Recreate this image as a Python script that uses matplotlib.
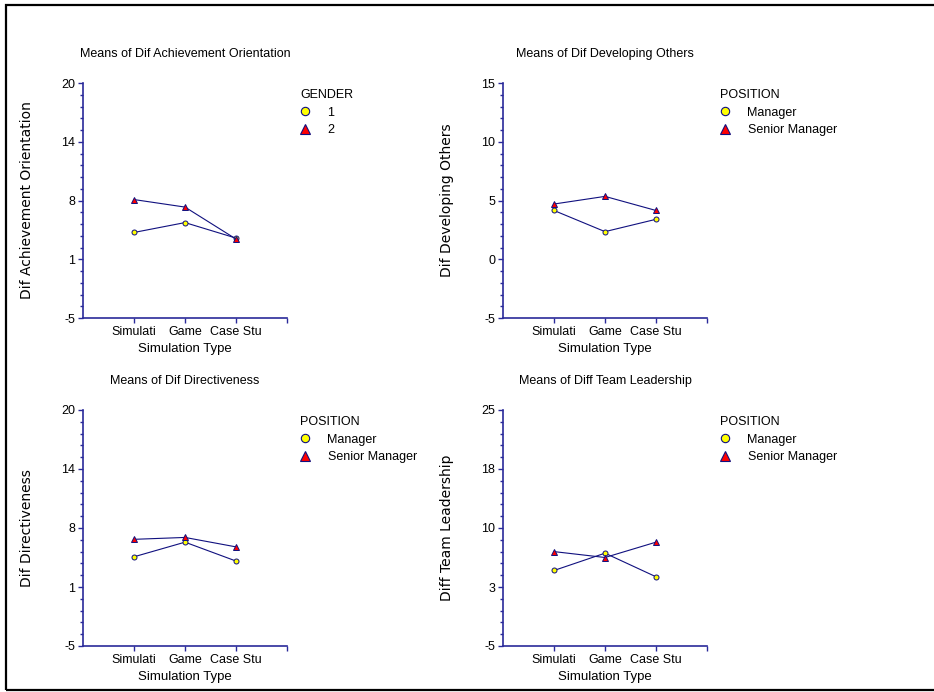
import numpy as np
import matplotlib
matplotlib.use("Agg")
import matplotlib.pyplot as plt
from matplotlib.lines import Line2D
from matplotlib.patches import Rectangle
from matplotlib.ticker import FixedLocator, FuncFormatter

# data
categories = ["Simulati", "Game", "Case Stu"]

ach_gender1 = [4.1, 5.15, 3.5]
ach_gender2 = [7.6, 6.8, 3.4]

dev_manager = [4.15, 2.35, 3.4]
dev_senior = [4.7, 5.35, 4.15]

dir_manager = [4.45, 6.0, 4.0]
dir_senior = [6.3, 6.5, 5.5]

team_manager = [4.6, 6.8, 3.8]
team_senior = [7.0, 6.25, 8.2]

titles = ["Means of Dif Achievement Orientation", "Means of Dif Developing Others",
          "Means of Dif Directiveness", "Means of Diff Team Leadership"]
ylabels = ["Dif Achievement Orientation", "Dif Developing Others",
           "Dif Directiveness", "Diff Team Leadership"]
ylims = [(-5, 20), (-5, 15), (-5, 20), (-5, 25)]
legend_titles = ["GENDER", "POSITION", "POSITION", "POSITION"]
legend_labels = [["1", "2"], ["Manager", "Senior Manager"],
                 ["Manager", "Senior Manager"], ["Manager", "Senior Manager"]]
series = [(ach_gender1, ach_gender2), (dev_manager, dev_senior),
          (dir_manager, dir_senior), (team_manager, team_senior)]

plain = "Liberation Sans"

W, H = 934, 692
fig = plt.figure(figsize=(W / 100, H / 100), dpi=100)
fig.patch.set_facecolor("white")

navy = "#10107f"
spine_col = "#2a2a9a"

# axes boxes in pixels: left, top, right, bottom
boxes = [(83, 83, 287, 318), (503, 83, 707, 318),
         (83, 410, 287, 646), (503, 410, 707, 646)]

def halfup(v, pos):
    return str(int(np.floor(v + 0.5)))

for i, (l, t, r, b) in enumerate(boxes):
    ax = fig.add_axes([l / W, 1 - b / H, (r - l) / W, (b - t) / H])
    x = np.arange(1, len(categories) + 1)
    s1, s2 = series[i]
    ax.plot(x, s1, color=navy, lw=0.8, marker="o", ms=3.6,
            mfc="#ffff00", mec=navy, mew=0.7, zorder=3)
    ax.plot(x, s2, color=navy, lw=0.8, marker="^", ms=5,
            mfc="#ff0000", mec=navy, mew=0.7, zorder=4)

    lo, hi = ylims[i]
    ax.set_xlim(0, 4)
    ax.set_ylim(lo, hi)
    for side in ["top", "right"]:
        ax.spines[side].set_visible(False)
    for side in ["left", "bottom"]:
        ax.spines[side].set_color(spine_col)
        ax.spines[side].set_linewidth(1.2)

    ax.xaxis.set_major_locator(FixedLocator([1, 2, 3, 4]))
    ax.set_xticklabels(categories + [""])
    ax.yaxis.set_major_locator(FixedLocator(np.linspace(lo, hi, 5)))
    ax.yaxis.set_minor_locator(FixedLocator(np.linspace(lo, hi, 21)))
    ax.yaxis.set_major_formatter(FuncFormatter(halfup))
    ax.tick_params(axis="both", which="major", length=3.5, width=1,
                   color=spine_col, labelsize=9, pad=2)
    ax.tick_params(axis="y", which="minor", length=2.5, width=1, color=spine_col)
    for lab in ax.get_xticklabels() + ax.get_yticklabels():
        lab.set_family(plain)

    ax.set_title(titles[i], fontsize=9, family=plain, pad=19)
    ax.set_xlabel("Simulation Type", fontsize=9.5, family=plain)
    ax.xaxis.set_label_coords(0.5, -0.108)
    ax.set_ylabel(ylabels[i], fontsize=10, family="DejaVu Sans")
    ax.yaxis.set_label_coords(-0.24, 0.5)

    handles = [Line2D([], [], ls="none", marker="o", ms=6, mfc="#ffff00", mec=navy, mew=0.8),
               Line2D([], [], ls="none", marker="^", ms=7, mfc="#ff0000", mec=navy, mew=0.8)]
    leg = ax.legend(handles, legend_labels[i], title=legend_titles[i],
                    loc="upper left", bbox_to_anchor=((r + 13) / W, 1 - (t + 6) / H),
                    bbox_transform=fig.transFigure, frameon=False,
                    prop={"family": plain, "size": 9},
                    title_fontproperties={"family": plain, "size": 9},
                    alignment="left", borderpad=0, borderaxespad=0,
                    handlelength=0.8, handletextpad=1.4, labelspacing=0.45)

fig.add_artist(Rectangle((6 / W, 2 / H), (W + 20) / W, (H - 7) / H,
                         transform=fig.transFigure, fill=False,
                         edgecolor="black", lw=1.6, clip_on=False))

fig.savefig("out.png", dpi=100)
